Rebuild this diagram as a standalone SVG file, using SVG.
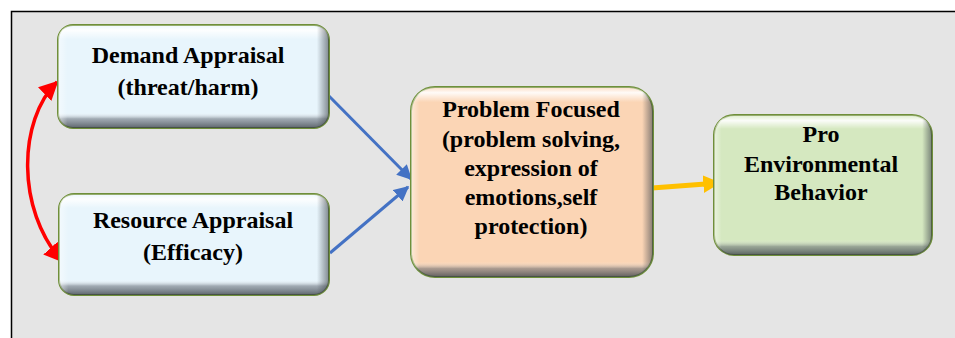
<svg xmlns="http://www.w3.org/2000/svg" width="955" height="338" viewBox="0 0 955 338">
<style>
.lbl{font-family:"Liberation Serif","Times New Roman",serif;font-weight:bold;font-size:24px;fill:#000;text-anchor:middle}
.box{stroke:#6F8F3A;stroke-width:2}
.conn{fill:none}
</style>
<defs>
<linearGradient id="vS" x1="0" y1="0" x2="0" y2="1">
<stop offset="0" stop-color="#ffffff" stop-opacity="0.2"/>
<stop offset="0.05" stop-color="#ffffff" stop-opacity="0.9"/>
<stop offset="0.14" stop-color="#ffffff" stop-opacity="0"/>
<stop offset="0.85" stop-color="#ffffff" stop-opacity="0"/>
<stop offset="0.91" stop-color="#5a606a" stop-opacity="0.5"/>
<stop offset="1" stop-color="#3a4048" stop-opacity="0.8"/>
</linearGradient>
<linearGradient id="vM" x1="0" y1="0" x2="0" y2="1">
<stop offset="0" stop-color="#ffffff" stop-opacity="0.2"/>
<stop offset="0.04" stop-color="#ffffff" stop-opacity="0.9"/>
<stop offset="0.1" stop-color="#ffffff" stop-opacity="0"/>
<stop offset="0.89" stop-color="#ffffff" stop-opacity="0"/>
<stop offset="0.94" stop-color="#5a606a" stop-opacity="0.5"/>
<stop offset="1" stop-color="#3a4048" stop-opacity="0.8"/>
</linearGradient>
<linearGradient id="vL" x1="0" y1="0" x2="0" y2="1">
<stop offset="0" stop-color="#ffffff" stop-opacity="0.2"/>
<stop offset="0.03" stop-color="#ffffff" stop-opacity="0.9"/>
<stop offset="0.08" stop-color="#ffffff" stop-opacity="0"/>
<stop offset="0.92" stop-color="#ffffff" stop-opacity="0"/>
<stop offset="0.955" stop-color="#5a606a" stop-opacity="0.5"/>
<stop offset="1" stop-color="#3a4048" stop-opacity="0.8"/>
</linearGradient>
<linearGradient id="hshade" x1="0" y1="0" x2="1" y2="0">
<stop offset="0" stop-color="#ffffff" stop-opacity="0.5"/>
<stop offset="0.035" stop-color="#ffffff" stop-opacity="0"/>
<stop offset="0.955" stop-color="#3a4048" stop-opacity="0"/>
<stop offset="1" stop-color="#3a4048" stop-opacity="0.6"/>
</linearGradient>
<marker id="redEnd" viewBox="0 0 10 10" refX="9" refY="5" markerWidth="5.5" markerHeight="5.5" orient="auto" markerUnits="strokeWidth">
<path d="M0,0 L10,5 L0,10 z" fill="#FF0000"/>
</marker>
<marker id="redStart" viewBox="0 0 10 10" refX="1" refY="5" markerWidth="5.5" markerHeight="5.5" orient="auto" markerUnits="strokeWidth">
<path d="M10,0 L0,5 L10,10 z" fill="#FF0000"/>
</marker>
<marker id="blueEnd" viewBox="0 0 10 10" refX="9" refY="5" markerWidth="5" markerHeight="5" orient="auto" markerUnits="strokeWidth">
<path d="M0,0 L10,5 L0,10 z" fill="#4472C4"/>
</marker>
<marker id="yelEnd" viewBox="0 0 10 10" refX="9" refY="5" markerWidth="3.5" markerHeight="3.5" orient="auto" markerUnits="strokeWidth">
<path d="M0,0 L10,5 L0,10 z" fill="#FFC000"/>
</marker>
</defs>
<rect x="0" y="0" width="955" height="338" fill="#ffffff"/>
<rect x="11.5" y="11.5" width="950" height="340" fill="#E5E5E5" stroke="#000" stroke-width="1.5"/>

<g id="connectors">
<path class="conn" d="M57,82 C18,120 16,210 62,261" stroke="#FF0000" stroke-width="3.5" marker-start="url(#redStart)" marker-end="url(#redEnd)"/>
<path class="conn" d="M326,93 L411,179" stroke="#4472C4" stroke-width="3" marker-end="url(#blueEnd)"/>
<path class="conn" d="M330,253 L408,187" stroke="#4472C4" stroke-width="3" marker-end="url(#blueEnd)"/>
<path class="conn" d="M652,188 L719,183" stroke="#FFC000" stroke-width="5" marker-end="url(#yelEnd)"/>
</g>

<g id="demand">
<rect class="box" x="58" y="25" width="271" height="103" rx="15" fill="#E8F5FC"/>
<rect x="58" y="25" width="271" height="103" rx="15" fill="url(#vS)"/>
<rect x="58" y="25" width="271" height="103" rx="15" fill="url(#hshade)"/>
<text class="lbl" x="188" y="63">Demand Appraisal</text>
<text class="lbl" x="188" y="95">(threat/harm)</text>
</g>

<g id="resource">
<rect class="box" x="59" y="194" width="270" height="101" rx="15" fill="#E8F5FC"/>
<rect x="59" y="194" width="270" height="101" rx="15" fill="url(#vS)"/>
<rect x="59" y="194" width="270" height="101" rx="15" fill="url(#hshade)"/>
<text class="lbl" x="193" y="228">Resource Appraisal</text>
<text class="lbl" x="193" y="260">(Efficacy)</text>
</g>

<g id="problem">
<rect class="box" x="411" y="87" width="242" height="190" rx="24" fill="#FBD5B5"/>
<rect x="411" y="87" width="242" height="190" rx="24" fill="url(#vL)"/>
<rect x="411" y="87" width="242" height="190" rx="24" fill="url(#hshade)"/>
<text class="lbl" x="531" y="117">Problem Focused</text>
<text class="lbl" x="531" y="147">(problem solving,</text>
<text class="lbl" x="531" y="176">expression of</text>
<text class="lbl" x="531" y="205">emotions,self</text>
<text class="lbl" x="531" y="234">protection)</text>
</g>

<g id="pro">
<rect class="box" x="714" y="115" width="218" height="140" rx="20" fill="#D5E8C0"/>
<rect x="714" y="115" width="218" height="140" rx="20" fill="url(#vM)"/>
<rect x="714" y="115" width="218" height="140" rx="20" fill="url(#hshade)"/>
<text class="lbl" x="821" y="142">Pro</text>
<text class="lbl" x="821" y="172">Environmental</text>
<text class="lbl" x="821" y="200">Behavior</text>
</g>
</svg>
